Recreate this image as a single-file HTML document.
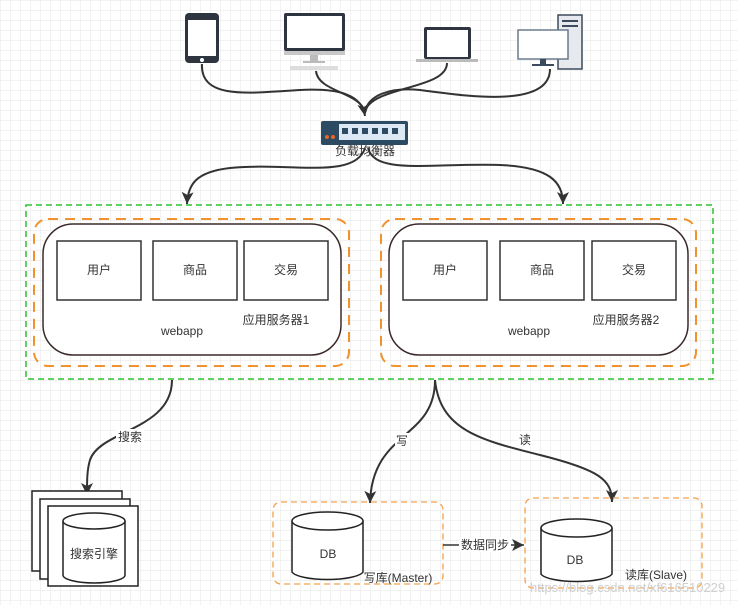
<!DOCTYPE html>
<html><head><meta charset="utf-8"><style>
html,body{margin:0;padding:0;background:#fff;}
svg{display:block;font-family:"Liberation Sans","Noto Sans CJK SC",sans-serif;}
</style></head><body>
<svg width="738" height="605" viewBox="0 0 738 605" xmlns="http://www.w3.org/2000/svg">
<defs>
<pattern id="g" width="10" height="10" patternUnits="userSpaceOnUse">
<path d="M10 0H0V10" fill="none" stroke="#e6e6e6" stroke-width="1"/>
</pattern>
<marker id="a" markerWidth="14" markerHeight="14" refX="12" refY="6" orient="auto" markerUnits="userSpaceOnUse">
<path d="M0,0 L12,6 L0,12 L3,6 z" fill="#333"/>
</marker>
</defs>
<rect width="738" height="605" fill="url(#g)"/>

<!-- devices -->
<rect x="185" y="13" width="34" height="50" rx="4" fill="#2f3540"/>
<rect x="188" y="20" width="28" height="36" fill="#fff"/>
<circle cx="202" cy="60" r="2" fill="#fff"/>
<rect x="284" y="13" width="61" height="38" rx="2" fill="#2f3540"/>
<rect x="287" y="16" width="55" height="32" fill="#fff"/>
<rect x="284" y="51" width="61" height="4" fill="#c8c8c8"/>
<rect x="310" y="55" width="8" height="6" fill="#bbb"/><rect x="303" y="61" width="22" height="2" fill="#bbb"/>
<rect x="290" y="66" width="48" height="4" fill="#ddd"/>
<rect x="424" y="27" width="47" height="32" rx="2" fill="#2f3540"/>
<rect x="427" y="30" width="41" height="27" fill="#fff"/>
<rect x="416" y="59" width="62" height="3" fill="#bbb"/>
<rect x="558" y="15" width="24" height="54" fill="#e6e9ee" stroke="#3b4a5c" stroke-width="1.5"/>
<rect x="562" y="20" width="16" height="2" fill="#3b4a5c"/><rect x="562" y="25" width="16" height="2" fill="#3b4a5c"/>
<rect x="518" y="30" width="50" height="29" fill="#fff" stroke="#6b7b8c" stroke-width="1.5"/>
<rect x="540" y="59" width="6" height="5" fill="#3b4a5c"/><rect x="532" y="64" width="22" height="2" fill="#3b4a5c"/>

<g fill="none" stroke="#333" stroke-width="2">
<path d="M202,64 C200,100 250,93 300,90 C340,88 362,95 365,116" marker-end="url(#a)"/>
<path d="M316,71 C318,92 360,92 365,112"/>
<path d="M447,63 C447,90 370,86 365,112"/>
<path d="M550,69 C550,110 460,95 420,90 C390,87 368,95 365,112"/>
<path d="M365,148 C355,180 290,162 230,168 C195,172 188,185 187,204" marker-end="url(#a)"/>
<path d="M368,148 C375,175 430,163 500,165 C550,167 563,182 563,204" marker-end="url(#a)"/>
<path d="M172,380 C172,430 100,430 90,460 C87,470 87,480 87,495" marker-end="url(#a)"/>
<path d="M435,380 C435,440 372,430 370,503" marker-end="url(#a)"/>
<path d="M435,380 C440,430 480,440 540,455 C600,470 612,480 612,502" marker-end="url(#a)"/>
</g>

<!-- switch -->
<rect x="321" y="121" width="87" height="24" rx="2" fill="#2d4a63"/>
<rect x="339" y="124" width="66" height="16" fill="#dce9f4"/>
<g fill="#2d4a63"><rect x="342" y="128" width="6" height="6"/><rect x="352" y="128" width="6" height="6"/><rect x="362" y="128" width="6" height="6"/><rect x="372" y="128" width="6" height="6"/><rect x="382" y="128" width="6" height="6"/><rect x="392" y="128" width="6" height="6"/></g>
<circle cx="327" cy="137" r="2" fill="#e8662a"/><circle cx="333" cy="137" r="2" fill="#e8662a"/>
<text x="365" y="155" font-size="12" text-anchor="middle" fill="#333">负载均衡器</text>

<!-- green -->
<rect x="26" y="205" width="687" height="174" fill="none" stroke="#2ec12e" stroke-width="1.5" stroke-dasharray="6,4"/>

<g fill="none" stroke="#f0922e" stroke-width="2" stroke-dasharray="10,7">
<rect x="34" y="219" width="315" height="147" rx="14"/>
<rect x="381" y="219" width="315" height="147" rx="14"/>
</g>
<g fill="#fff" stroke="#3a2a2a" stroke-width="1.5">
<rect x="43" y="224" width="298" height="131" rx="30"/>
<rect x="389" y="224" width="299" height="131" rx="30"/>
</g>
<g fill="#fff" stroke="#333" stroke-width="1.5">
<rect x="57" y="241" width="84" height="59"/><rect x="153" y="241" width="84" height="59"/><rect x="244" y="241" width="84" height="59"/>
<rect x="403" y="241" width="84" height="59"/><rect x="500" y="241" width="84" height="59"/><rect x="592" y="241" width="84" height="59"/>
</g>
<g font-size="12" fill="#333" text-anchor="middle">
<text x="99" y="274">用户</text><text x="195" y="274">商品</text><text x="286" y="274">交易</text>
<text x="445" y="274">用户</text><text x="542" y="274">商品</text><text x="634" y="274">交易</text>
<text x="182" y="335">webapp</text><text x="276" y="324">应用服务器1</text>
<text x="529" y="335">webapp</text><text x="626" y="324">应用服务器2</text>
</g>

<!-- labels on edges -->
<rect x="116" y="429" width="28" height="15" fill="#fff"/><text x="130" y="441" font-size="12" text-anchor="middle" fill="#333">搜索</text>
<rect x="395" y="433" width="14" height="15" fill="#fff"/><text x="402" y="445" font-size="12" text-anchor="middle" fill="#333">写</text>
<rect x="518" y="432" width="14" height="15" fill="#fff"/><text x="525" y="444" font-size="12" text-anchor="middle" fill="#333">读</text>

<!-- search engine -->
<g fill="#fff" stroke="#222" stroke-width="1.5">
<rect x="32" y="491" width="90" height="80"/><rect x="40" y="499" width="90" height="80"/><rect x="48" y="506" width="90" height="80"/>
<path d="M63,521 V575 A31,8 0 0 0 125,575 V521"/><ellipse cx="94" cy="521" rx="31" ry="8"/>
</g>
<text x="94" y="558" font-size="12" text-anchor="middle" fill="#333">搜索引擎</text>

<!-- master/slave -->
<g fill="none" stroke="#f5a04a" stroke-width="1.3" stroke-dasharray="6,4">
<rect x="273" y="502" width="170" height="82" rx="8"/>
<rect x="525" y="498" width="177" height="90" rx="8"/>
</g>
<g fill="#fff" stroke="#222" stroke-width="1.5">
<path d="M292,521 V572 A36,9 0 0 0 363,572 V521"/><ellipse cx="327.5" cy="521" rx="35.5" ry="9"/>
<path d="M541,528 V574 A36,9 0 0 0 612,574 V528"/><ellipse cx="576.5" cy="528" rx="35.5" ry="9"/>
</g>
<g font-size="12" fill="#333" text-anchor="middle">
<text x="328" y="558">DB</text><text x="575" y="564">DB</text>
<text x="398" y="582">写库(Master)</text><text x="656" y="579">读库(Slave)</text>
</g>
<path d="M443,545 L524,545" fill="none" stroke="#333" stroke-width="1.5" marker-end="url(#a)"/>
<rect x="459" y="537" width="52" height="15" fill="#fff"/>
<text x="485" y="549" font-size="12" text-anchor="middle" fill="#333">数据同步</text>
<text x="530" y="592" font-size="13" fill="#cfcfcf">https://blog.csdn.net/xf616510229</text>
</svg>
</body></html>
